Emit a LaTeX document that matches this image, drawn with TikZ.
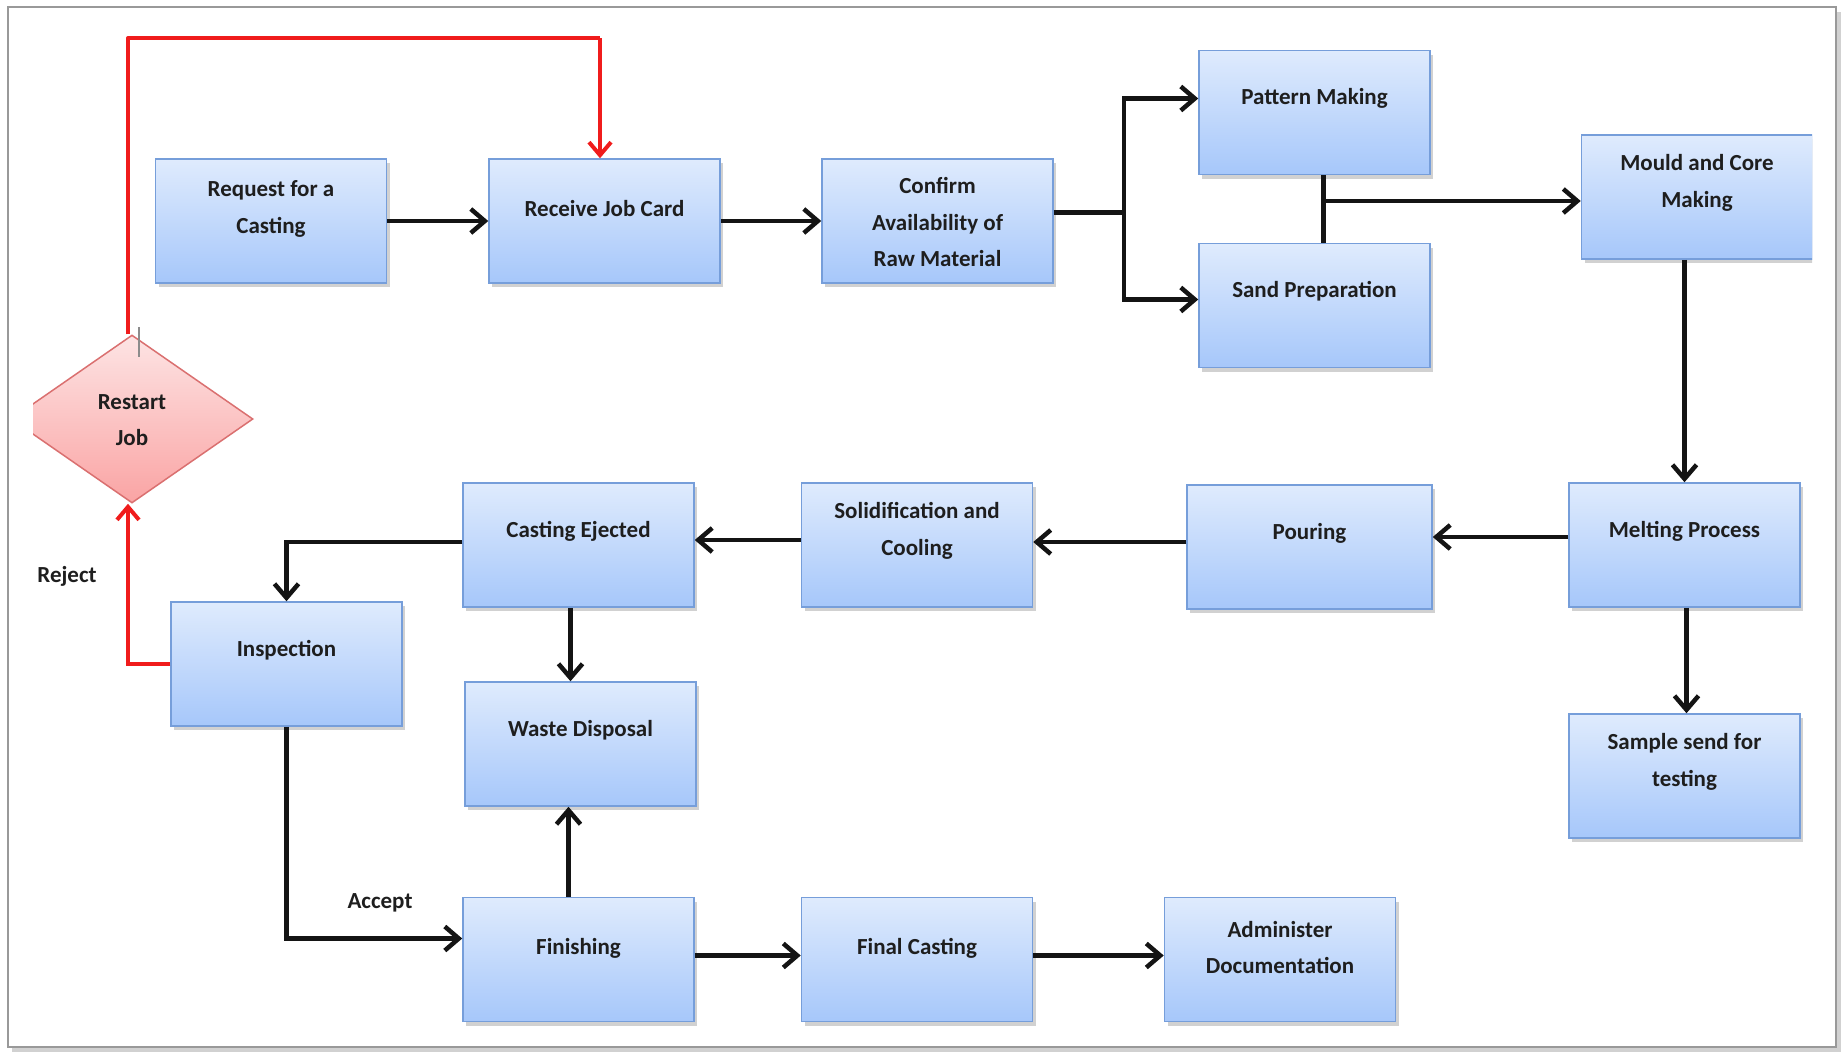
\documentclass[tikz,border=0pt]{standalone}
\usepackage{fontspec}
\setmainfont{Carlito}
\usetikzlibrary{arrows.meta,shapes.geometric,shadows}
\definecolor{boxtop}{RGB}{223,235,253}
\definecolor{boxbot}{RGB}{166,199,250}
\definecolor{boxline}{RGB}{118,158,218}
\definecolor{dtop}{RGB}{253,228,228}
\definecolor{dbot}{RGB}{250,164,164}
\definecolor{dline}{RGB}{218,112,112}
\definecolor{redl}{RGB}{240,28,28}
\definecolor{txtc}{RGB}{30,30,30}
\begin{document}
\begin{tikzpicture}[x=1pt,y=-1pt,
  box/.style={rectangle, minimum width=231pt, minimum height=124pt, inner sep=0pt,
    top color=boxtop, bottom color=boxbot, draw=boxline, line width=1.5pt,
    drop shadow={shadow xshift=3pt, shadow yshift=-4pt, opacity=0.3, fill=black!60}},
  diam/.style={diamond, minimum width=242pt, minimum height=168pt, inner sep=0pt,
    top color=dtop, bottom color=dbot, draw=dline, line width=1.5pt},
  lbl/.style={font=\bfseries\fontsize{23}{36.5}\selectfont, align=center, text=txtc, inner sep=0pt},
  arr/.style={line width=4.5pt, black!92, -{Straight Barb[length=14pt,width=24pt]}},
  plain/.style={line width=4.5pt, black!92},
  redarr/.style={line width=4pt, redl, -{Straight Barb[length=13pt,width=22pt]}},
  redplain/.style={line width=4pt, redl, line join=round}
]
\useasboundingbox (0,0) rectangle (1847,1053);
% frame
\draw[black!18, line width=4pt] (1839,12) -- (1839,1050) -- (12,1050);
\draw[black!40, line width=1.8pt] (8,7) rectangle (1836,1047);

% boxes
\node[box, label={[lbl, name=req-t, yshift=12pt]center:{Request for a\\Casting}}] (req) at (271,221) {};
\node[box, label={[lbl, name=rec-t, yshift=12pt]center:{Receive Job Card}}] (rec) at (604.5,221) {};
\node[box, label={[lbl, name=conf-t, yshift=-1pt]center:{Confirm\\Availability of\\Raw Material}}] (conf) at (937.5,221) {};
\node[box, label={[lbl, name=pat-t, yshift=14pt]center:{Pattern Making}}] (pat) at (1314.5,112.5) {};
\node[box, label={[lbl, name=sand-t, yshift=14pt]center:{Sand Preparation}}] (sand) at (1314.5,305.5) {};
\begin{scope}
\clip (0,0) rectangle (1812,1053);
\node[box, label={[lbl, name=mould-t, yshift=14pt]center:{Mould and Core\\Making}}] (mould) at (1697,197) {};
\end{scope}
\node[box, label={[lbl, name=melt-t, yshift=14pt]center:{Melting Process}}] (melt) at (1684.5,545) {};
\node[box, label={[lbl, name=samp-t, yshift=14pt]center:{Sample send for\\testing}}] (samp) at (1684.5,776) {};
\node[box, minimum width=245pt, label={[lbl, name=pour-t, yshift=14pt]center:{Pouring}}] (pour) at (1309.5,547) {};
\node[box, label={[lbl, name=sol-t, yshift=14pt]center:{Solidification and\\Cooling}}] (sol) at (917,545) {};
\node[box, label={[lbl, name=cej-t, yshift=14pt]center:{Casting Ejected}}] (cej) at (578.5,545) {};
\node[box, label={[lbl, name=insp-t, yshift=14pt]center:{Inspection}}] (insp) at (286.5,664) {};
\node[box, label={[lbl, name=waste-t, yshift=14pt]center:{Waste Disposal}}] (waste) at (580.5,744) {};
\node[box, label={[lbl, name=fin-t, yshift=11pt]center:{Finishing}}] (fin) at (578.5,959.5) {};
\node[box, label={[lbl, name=fcast-t, yshift=11pt]center:{Final Casting}}] (fcast) at (917,959.5) {};
\node[box, label={[lbl, name=adm-t, yshift=12pt]center:{Administer\\Documentation}}] (adm) at (1280,959.5) {};

% diamond
\begin{scope}
\clip (33,0) rectangle (1847,1053);
\node[diam, label={[lbl, name=rj-t, yshift=-1pt]center:{Restart\\Job}}] (rj) at (132,419) {};
\end{scope}
\draw[black!45, line width=1.2pt] (139,327) -- (139,357);

% labels
\node[lbl, anchor=center] (acc) at (380,903) {Accept};
\node[lbl, anchor=center] (rej) at (67,576) {Reject};

% connectors
\draw[arr] (req.east) -- (rec.west);
\draw[arr] (rec.east) -- (conf.west);
\coordinate (jc) at (1124,212);
\draw[plain, line width=5pt] ([yshift=9pt]conf.east) -- (jc);
\draw[arr] (jc) |- ([yshift=14pt]pat.west);
\draw[arr] (jc) |- ([yshift=6pt]sand.west);
\draw[plain] ([xshift=9pt]pat.south) -- ([xshift=9pt]sand.north);
\coordinate (jm) at (1323.5,201);
\draw[arr] (jm) -- (jm -| mould.west);
\draw[arr] (mould.south -| melt.north) -- (melt.north);
\draw[arr] ([xshift=2pt]melt.south) -- ([xshift=2pt]samp.north);
\draw[arr] ([yshift=8pt]melt.west) -- ([yshift=8pt]melt.west -| pour.east);
\draw[arr] ([yshift=5pt]pour.west) -- ([yshift=5pt]pour.west -| sol.east);
\draw[arr] ([yshift=5pt]sol.west) -- ([yshift=5pt]sol.west -| cej.east);
\draw[arr] ([yshift=3pt]cej.west) -| (insp.north);
\draw[arr] ([xshift=-8pt]cej.south) -- ([xshift=-8pt]cej.south |- waste.north);
\draw[arr] ([xshift=-10pt]fin.north) -- ([xshift=-10pt]fin.north |- waste.south);
\draw[arr] (insp.south) |- ([yshift=21pt]fin.west);
\draw[arr] ([yshift=4pt]fin.east) -- ([yshift=4pt]fcast.west);
\draw[arr] ([yshift=4pt]fcast.east) -- ([yshift=4pt]adm.west);

% red connectors
\draw[redarr] (insp.west) -| ([xshift=-4pt]rj.south);
\coordinate (rc1) at (128,38);
\coordinate (rc2) at (600,38);
\draw[redplain] ([xshift=-4pt]rj.north) -- (rc1) -- (rc2);
\draw[redarr] (rc2) -- ([xshift=-4.5pt]rec.north);
\end{tikzpicture}
\end{document}
